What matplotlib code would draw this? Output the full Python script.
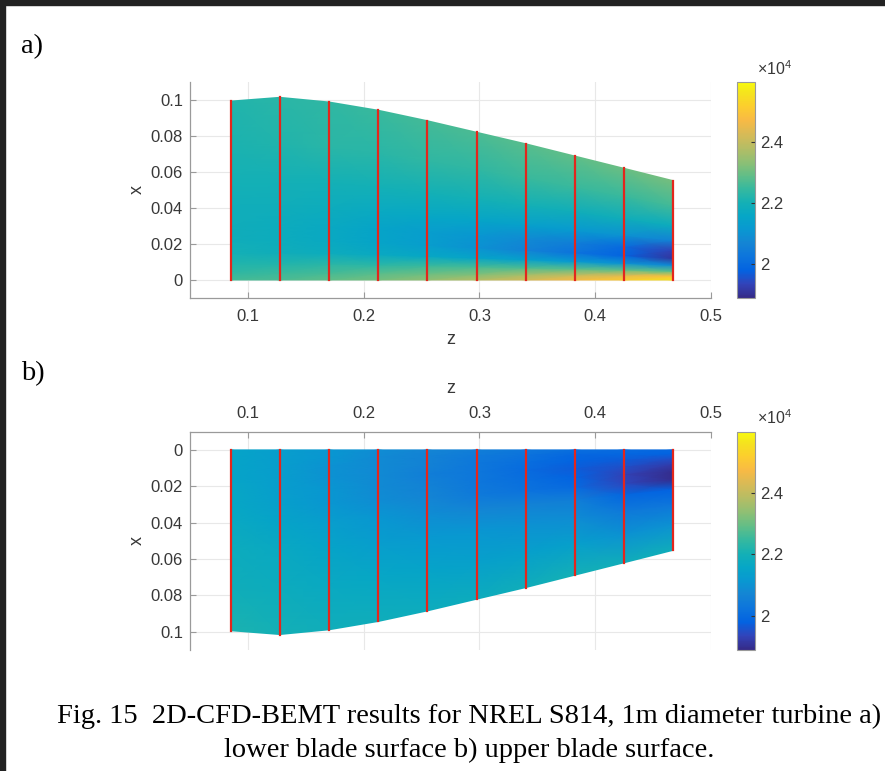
import matplotlib.pyplot as plt
import numpy as np
from matplotlib.colors import LinearSegmentedColormap
from matplotlib.patches import Rectangle

plt.rcParams['font.family'] = ['Liberation Sans', 'DejaVu Sans']
plt.rcParams['mathtext.default'] = 'regular'

# blade stations (red lines) and local chord length
z_stations = [0.0851, 0.1276, 0.1701, 0.2128, 0.2551, 0.2975, 0.3400, 0.3823, 0.4247, 0.4674]
chord = [0.0994, 0.1015, 0.0989, 0.0943, 0.0885, 0.0821, 0.0757, 0.0689, 0.0621, 0.0552]
# chordwise sample positions (fraction of local chord)
s_frac = [0, 0.04, 0.09, 0.15, 0.22, 0.3, 0.4, 0.55, 0.75, 1.0]

# a) lower blade surface, one row per s_frac, one column per station
p_lower = [
    [22600, 22700, 22900, 23100, 23400, 23800, 24200, 24700, 25100, 25600],
    [22400, 22500, 22600, 22800, 23000, 23200, 23600, 24000, 24400, 24900],
    [22200, 22200, 22300, 22300, 22500, 22600, 22700, 22800, 22900, 22800],
    [22000, 21900, 21800, 21700, 21600, 21500, 21400, 21200, 21000, 20800],
    [21900, 21800, 21700, 21500, 21300, 21000, 20600, 20200, 19800, 19100],
    [21900, 21800, 21700, 21500, 21300, 21100, 20800, 20500, 20000, 19300],
    [21900, 21900, 21800, 21700, 21600, 21500, 21400, 21200, 21000, 20600],
    [22000, 22000, 22000, 22000, 22000, 22000, 22000, 21900, 21900, 21800],
    [22100, 22200, 22300, 22300, 22400, 22400, 22500, 22500, 22500, 22600],
    [22200, 22300, 22400, 22500, 22600, 22700, 22800, 22900, 23000, 23100],
]

# b) upper blade surface
p_upper = [
    [21500, 21300, 21100, 20900, 20700, 20500, 20300, 20100, 20000, 19900],
    [21500, 21300, 21100, 20800, 20600, 20400, 20200, 19900, 19900, 19800],
    [21500, 21300, 21000, 20800, 20600, 20300, 20100, 19800, 19700, 19500],
    [21500, 21300, 21000, 20800, 20500, 20300, 20000, 19700, 19500, 19200],
    [21600, 21300, 21100, 20800, 20600, 20300, 20100, 19800, 19300, 18950],
    [21600, 21400, 21100, 20900, 20700, 20400, 20200, 20000, 19400, 18950],
    [21700, 21500, 21300, 21100, 20900, 20700, 20600, 20500, 19900, 19800],
    [21800, 21700, 21500, 21300, 21200, 21100, 21000, 20900, 20400, 20300],
    [21900, 21800, 21700, 21600, 21500, 21400, 21400, 21400, 21000, 21000],
    [22100, 22000, 21900, 21900, 21800, 21800, 21900, 22000, 21900, 21900],
]

vmin, vmax = 18880, 25980
cbar_ticks = [20000, 22000, 24000]
cbar_labels = ['2', '2.2', '2.4']
x_ticks = [0.1, 0.2, 0.3, 0.4, 0.5]
y_ticks = [0, 0.02, 0.04, 0.06, 0.08, 0.1]
y_labels = ['0', '0.02', '0.04', '0.06', '0.08', '0.1']

# parula-like colormap
parula_pts = [
    (0.2081, 0.1663, 0.5292), (0.1959, 0.2645, 0.7279), (0.0117, 0.3875, 0.8820),
    (0.0498, 0.4586, 0.8641), (0.0793, 0.5200, 0.8312), (0.0343, 0.5966, 0.8199),
    (0.0228, 0.6535, 0.7768), (0.0843, 0.6928, 0.7062), (0.2178, 0.7250, 0.6193),
    (0.3953, 0.7459, 0.5244), (0.5709, 0.7485, 0.4494), (0.7184, 0.7411, 0.3905),
    (0.8507, 0.7299, 0.3360), (0.9739, 0.7314, 0.2666), (0.9880, 0.8066, 0.1794),
    (0.9589, 0.8949, 0.1132), (0.9763, 0.9831, 0.0538),
]
pos = [i * 4 / 63 for i in range(16)] + [1.0]
parula = LinearSegmentedColormap.from_list('parula', list(zip(pos, parula_pts)))

W, H = 885, 771
fig = plt.figure(figsize=(W / 100, H / 100), dpi=100)

spine_col = '#9a9a9a'
text_col = '#383838'

Z = np.tile(z_stations, (len(s_frac), 1))
X = np.outer(s_frac, chord)


def draw_panel(top_px, bot_px, values, upper):
    ax = fig.add_axes([190 / W, 1 - bot_px / H, 521 / W, (bot_px - top_px) / H])
    mesh = ax.pcolormesh(Z, X, np.array(values), shading='gouraud', cmap=parula,
                         vmin=vmin, vmax=vmax, zorder=2)
    for z, c in zip(z_stations, chord):
        ax.plot([z, z], [0, c], color='#e3261c', lw=1.6, zorder=3)
    ax.set_xlim(0.05, 0.5)
    if upper:
        ax.set_ylim(0.11, -0.01)
    else:
        ax.set_ylim(-0.01, 0.11)
    ax.set_xticks(x_ticks)
    ax.set_yticks(y_ticks)
    ax.set_yticklabels(y_labels)
    ax.grid(True, color='#e8e8e8', lw=0.8)
    ax.set_axisbelow(True)
    for s in ax.spines.values():
        s.set_color(spine_col)
        s.set_linewidth(0.9)
    ax.spines['right'].set_visible(False)
    if upper:
        ax.spines['bottom'].set_visible(False)
        ax.xaxis.tick_top()
        ax.xaxis.set_label_position('top')
    else:
        ax.spines['top'].set_visible(False)
    ax.tick_params(direction='in', length=4, color=spine_col, labelcolor=text_col,
                   labelsize=12)
    ax.tick_params(axis='x', pad=8)
    ax.tick_params(axis='y', pad=5)
    ax.set_xlabel('z', fontsize=13, color=text_col, va='center')
    ax.set_ylabel('x', fontsize=13, color=text_col, va='center', ha='center')
    ax.xaxis.set_label_coords(0.5, 1.2 if upper else -0.194)
    ax.yaxis.set_label_coords(-0.102, 0.5)

    cax = fig.add_axes([737 / W, 1 - bot_px / H, 18 / W, (bot_px - top_px) / H])
    cb = fig.colorbar(mesh, cax=cax)
    cb.set_ticks(cbar_ticks)
    cb.set_ticklabels(cbar_labels)
    cb.outline.set_edgecolor(spine_col)
    cb.outline.set_linewidth(0.8)
    cax.tick_params(direction='in', length=3, color='#333333', labelcolor=text_col,
                    labelsize=12, pad=4)
    cax.text(1.1, 1.033, '×10$^{4}$', transform=cax.transAxes, ha='left',
             va='baseline', fontsize=11.5, color=text_col)
    return ax


draw_panel(82, 298, p_lower, upper=False)
draw_panel(431.7, 650, p_upper, upper=True)

serif = ['Liberation Serif', 'DejaVu Serif']
fig.text(20.7 / W, 1 - 53 / H, 'a)', family=serif, fontsize=20.5, va='baseline')
fig.text(20.7 / W, 1 - 380 / H, 'b)', family=serif, fontsize=20.5, va='baseline')
fig.text(469 / W, 1 - 723 / H,
         'Fig. 15  2D-CFD-BEMT results for NREL S814, 1m diameter turbine a)',
         family=serif, fontsize=20.5, ha='center', va='baseline')
fig.text(469 / W, 1 - 757 / H, 'lower blade surface b) upper blade surface.',
         family=serif, fontsize=20.5, ha='center', va='baseline')

# dark screenshot border on top and left
fig.add_artist(Rectangle((0, 1 - 4.7 / H), 1, 4.7 / H, transform=fig.transFigure,
                         color='#222222', zorder=10))
fig.add_artist(Rectangle((0, 0), 4.7 / W, 1, transform=fig.transFigure,
                         color='#222222', zorder=10))

fig.savefig('out.png', dpi=100)
